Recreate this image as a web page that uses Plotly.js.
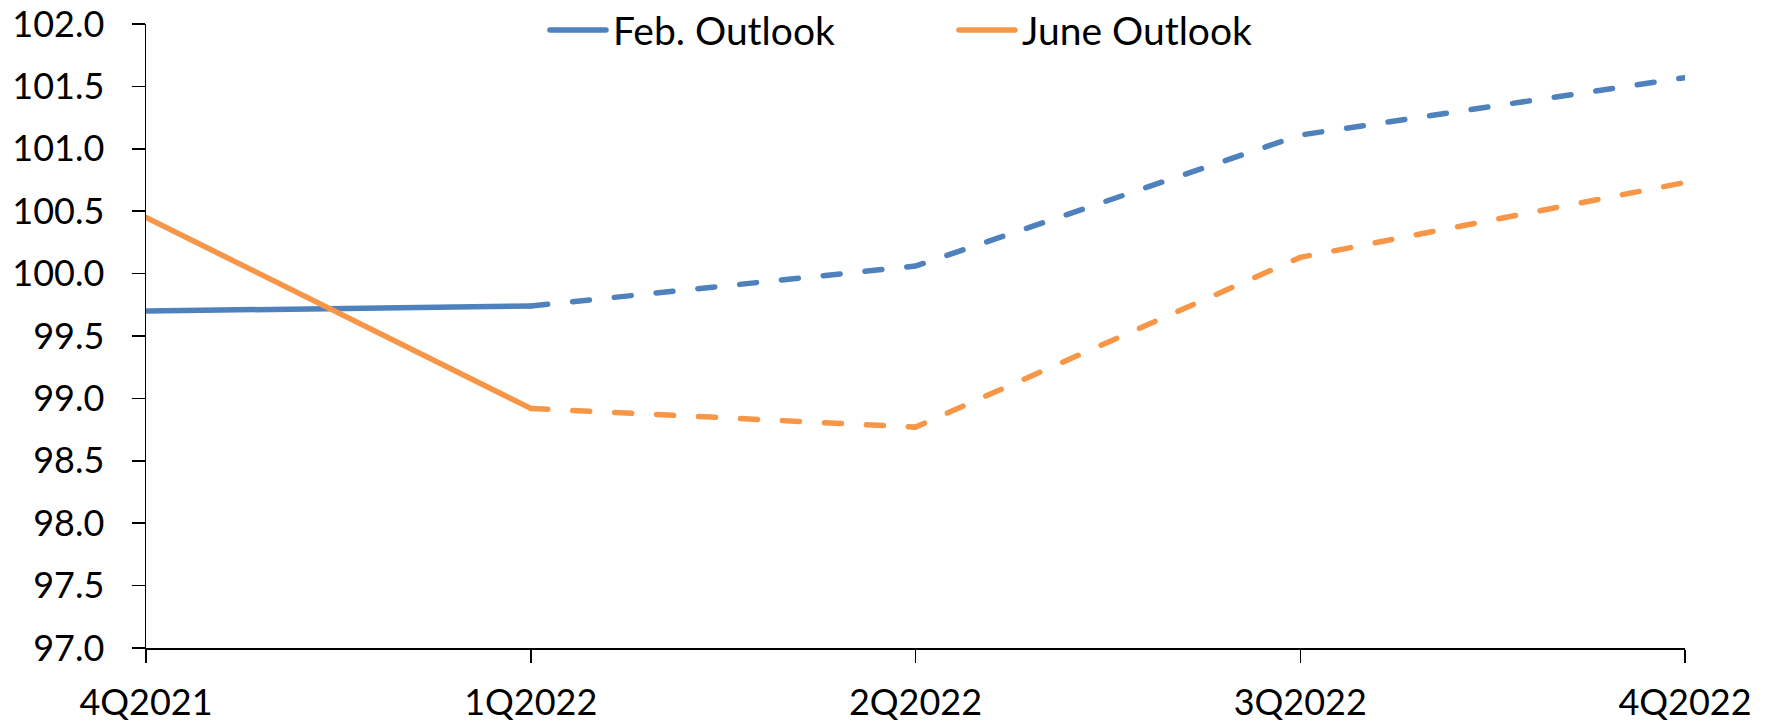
<!DOCTYPE html>
<html>
<head>
<meta charset="utf-8">
<script src="https://cdn.plot.ly/plotly-3.0.1.min.js"></script>
<style>
  html, body { margin: 0; padding: 0; background: #fff; }
  #chart { width: 1774px; height: 723px; }
  /* rounded ends on every line stroke, legend swatches included */
  .js-line { stroke-linecap: round !important; }
</style>
</head>
<body>
<div id="chart"></div>
<script>
// Quarters on the horizontal axis
const quarters = ['4Q2021', '1Q2022', '2Q2022', '3Q2022', '4Q2022'];

// Index level by quarter for each outlook
const febOutlook  = [99.70, 99.74, 100.06, 101.11, 101.57];
const juneOutlook = [100.45, 98.92, 98.77, 100.13, 100.73];

// Quarters up to this index are actuals (solid); after it, projections (dashed)
const lastActual = 1;

const blue = '#4F81BD';
const orange = '#F79646';
const lineW = 5.5;
const dashPattern = '17px,25px';

function solidPart(arr) { return arr.slice(0, lastActual + 1); }
function dashedPart(arr) { return arr.slice(lastActual); }

const traces = [
  {
    x: solidPart(quarters), y: solidPart(febOutlook),
    name: 'Feb. Outlook', legendgroup: 'feb', mode: 'lines',
    line: { color: blue, width: lineW }
  },
  {
    x: dashedPart(quarters), y: dashedPart(febOutlook),
    name: 'Feb. Outlook', legendgroup: 'feb', showlegend: false, mode: 'lines',
    line: { color: blue, width: lineW, dash: dashPattern }
  },
  {
    x: solidPart(quarters), y: solidPart(juneOutlook),
    name: 'June Outlook', legendgroup: 'june', mode: 'lines',
    line: { color: orange, width: lineW }
  },
  {
    x: dashedPart(quarters), y: dashedPart(juneOutlook),
    name: 'June Outlook', legendgroup: 'june', showlegend: false, mode: 'lines',
    line: { color: orange, width: lineW, dash: dashPattern }
  }
];

const fontFamily = 'Lato, "Open Sans", sans-serif';

const layout = {
  width: 1774,
  height: 723,
  margin: { l: 146, r: 89, t: 24, b: 75, autoexpand: false },
  paper_bgcolor: '#ffffff',
  plot_bgcolor: '#ffffff',
  font: { family: fontFamily, size: 36, color: '#000' },
  showlegend: true,
  legend: {
    orientation: 'h',
    x: 0.525, xanchor: 'center',
    y: 0.99, yanchor: 'middle',
    font: { family: fontFamily, size: 39, color: '#000' },
    itemwidth: 58,
    entrywidth: 336,
    entrywidthmode: 'pixels',
    bgcolor: 'rgba(0,0,0,0)'
  },
  xaxis: {
    type: 'category',
    range: [0, quarters.length - 1],
    showgrid: false,
    zeroline: false,
    showline: true,
    linecolor: '#000',
    linewidth: 1.5,
    ticks: 'outside',
    ticklen: 13,
    tickwidth: 1.5,
    tickcolor: '#000',
    ticklabelstandoff: 9,
    tickfont: { family: fontFamily, size: 36, color: '#000' },
    fixedrange: true
  },
  yaxis: {
    range: [97, 102],
    dtick: 0.5,
    tick0: 97,
    tickformat: '.1f',
    showgrid: false,
    zeroline: false,
    showline: true,
    linecolor: '#000',
    linewidth: 1.5,
    ticks: 'outside',
    ticklen: 13,
    tickwidth: 1.5,
    tickcolor: '#000',
    ticklabelstandoff: 20,
    tickfont: { family: fontFamily, size: 36, color: '#000' },
    fixedrange: true
  }
};

Plotly.newPlot('chart', traces, layout, { displayModeBar: false, staticPlot: true }).then(function (gd) {
  // longer legend swatches, filling the widened symbol slot
  gd.querySelectorAll('.legend .traces .js-line').forEach(function (p) {
    p.setAttribute('d', 'M5,0h56');
  });
});
</script>
</body>
</html>
